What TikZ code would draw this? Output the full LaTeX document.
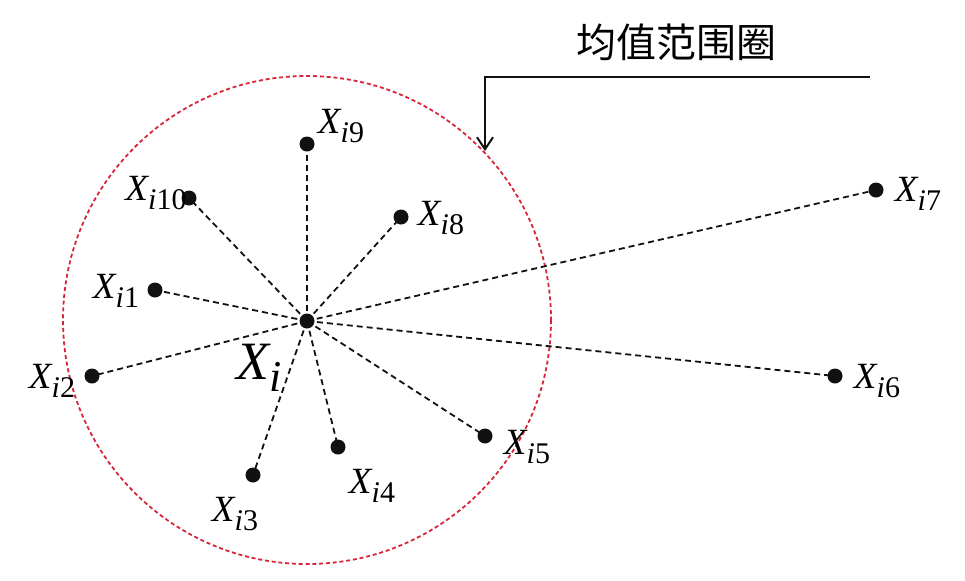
\documentclass[tikz,border=0pt]{standalone}
\usepackage{fontspec}
\setmainfont{Liberation Serif}
\newfontfamily\cjk{Noto Sans CJK SC}
\usepackage{tikz}
\usetikzlibrary{arrows.meta,positioning}
\definecolor{ringred}{HTML}{D8253A}
\definecolor{inkblack}{HTML}{111111}
\newcommand{\xsub}[1]{\textit{X}\kern-0.5pt\raisebox{-0.5ex}{\fontsize{15}{16}\selectfont\textit{i}#1}}
\tikzset{
  dot/.style={circle, fill=inkblack, inner sep=0pt, minimum size=7.5pt},
  spoke/.style={draw=inkblack, line width=.9pt, dash pattern=on 3pt off 2pt},
  ring/.style={draw=ringred, line width=.9pt, dash pattern=on 2pt off 1.4pt},
  callout/.style={draw=inkblack, line width=1pt, -{Straight Barb[length=6pt,width=8pt]}},
  lbl/.style={font=\fontsize{18.5}{20}\selectfont, inner sep=1pt},
  biglbl/.style={font=\fontsize{27}{29}\selectfont, inner sep=1pt}
}
\begin{document}
\begin{tikzpicture}[x=0.5pt,y=-0.5pt]
  \useasboundingbox (0,0) rectangle (965,580);

  % range circle
  \coordinate (ctr) at (307,320);
  \draw[ring] (ctr) circle[radius=244];

  % sample points
  \node[dot] (xi) at (307,321) {};
  \node[dot] (p1) at (155,290) {};
  \node[dot] (p2) at (92,376) {};
  \node[dot] (p3) at (253,475) {};
  \node[dot] (p4) at (338,447) {};
  \node[dot] (p5) at (485,436) {};
  \node[dot] (p6) at (835,376) {};
  \node[dot] (p7) at (876,190) {};
  \node[dot] (p8) at (401,217) {};
  \node[dot] (p9) at (307,144) {};
  \node[dot] (p10) at (189,198) {};

  % labels
  \node[biglbl] (lxi) at (259,368) {\textit{X}\kern-1pt\raisebox{-0.5ex}{\fontsize{22}{23}\selectfont\textit{i}}};
  \node[lbl] (l1) at (116,291) {\xsub{1}};
  \node[lbl] (l2) at (52,381) {\xsub{2}};
  \node[lbl] (l3) at (235,514) {\xsub{3}};
  \node[lbl] (l4) at (372,486) {\xsub{4}};
  \node[lbl] (l5) at (527,447) {\xsub{5}};
  \node[lbl] (l6) at (877,381) {\xsub{6}};
  \node[lbl] (l7) at (918,194) {\xsub{7}};
  \node[lbl] (l8) at (441,218) {\xsub{8}};
  \node[lbl] (l9) at (341,126) {\xsub{9}};
  \node[lbl] (l10) at (156,193) {\xsub{10}};

  % spokes
  \foreach \k in {1,...,10}
    \draw[spoke] (xi.center) -- (p\k.center);

  % title and pointer
  \node[font=\cjk\fontsize{20}{22}\selectfont] (title) at (676,42) {均值范围圈};
  \coordinate (cs) at (870,77);
  \coordinate (ce) at (485,151);
  \draw[callout] (cs) -| (ce);
\end{tikzpicture}
\end{document}
